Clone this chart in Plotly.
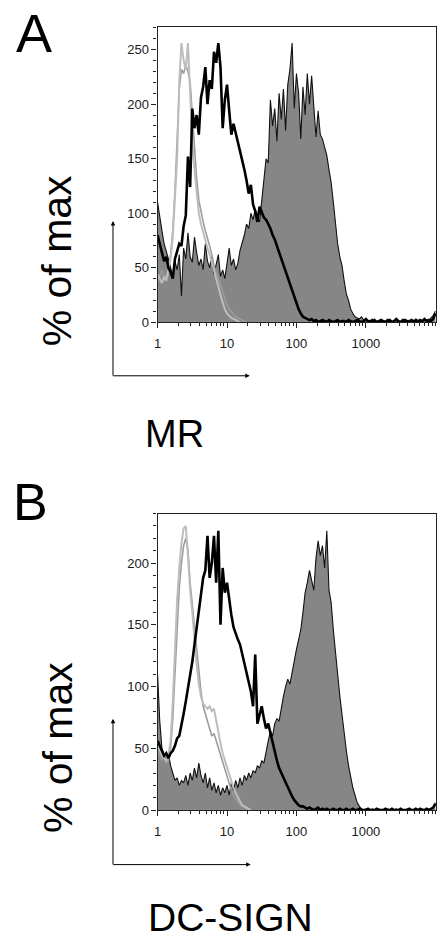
import numpy as np
import plotly.graph_objects as go

# ---- data: histogram counts per channel (channel k sits at 10**(k/32)) ----
CHANNELS_PER_DECADE = 32
N_CHANNELS = 129

# Panel A (MR)
FILL_A = [110, 95, 84, 72, 66, 58, 50, 42, 56, 48,
          62, 24, 68, 58, 82, 60, 55, 78, 64, 52,
          58, 48, 72, 56, 50, 60, 44, 54, 62, 42,
          48, 40, 56, 68, 52, 58, 48, 54, 66, 72,
          80, 90, 86, 100, 94, 104, 96, 92, 112, 132,
          150, 146, 204, 180, 196, 166, 210, 186, 214, 176,
          218, 232, 256, 196, 228, 210, 168, 216, 190, 228,
          200, 226, 196, 170, 194, 172, 168, 160, 153, 140,
          128, 110, 88, 72, 60, 52, 38, 26, 20, 12,
          8, 5, 4, 3, 5, 2, 3, 1, 2, 1,
          3, 1, 0, 2, 1, 1, 3, 1, 0, 1,
          2, 0, 1, 3, 1, 1, 2, 0, 1, 3,
          2, 1, 1, 3, 2, 1, 4, 6, 10]
OPEN_A = [80, 72, 64, 56, 60, 50, 46, 40, 58, 64,
          72, 70, 88, 98, 152, 124, 196, 178, 190, 172,
          206, 216, 234, 200, 222, 214, 248, 238, 256, 234,
          178, 204, 218, 194, 172, 182, 174, 166, 158, 148,
          140, 130, 118, 126, 108, 102, 92, 106, 100, 96,
          94, 90, 86, 80, 76, 70, 64, 60, 54, 48,
          42, 36, 30, 24, 18, 12, 8, 5, 4, 3,
          2, 3, 1, 2, 0, 1, 2, 1, 0, 2,
          1, 0, 1, 2, 0, 1, 1, 0, 2, 1,
          0, 1, 2, 1, 0, 1, 3, 1, 0, 2,
          1, 0, 1, 2, 1, 0, 1, 2, 0, 1,
          3, 1, 0, 1, 2, 1, 0, 2, 1, 1,
          0, 2, 1, 3, 1, 2, 1, 3, 8]
GRAY1_A = [44, 40, 36, 42, 38, 48, 58, 78, 110, 150,
           222, 256, 240, 232, 256, 214, 165, 140, 118, 100,
           90, 82, 76, 68, 62, 56, 48, 40, 32, 24,
           18, 12, 8, 6, 4, 3, 2, 1, 0]
GRAY2_A = [36, 42, 48, 40, 44, 48, 62, 84, 120, 168,
           214, 232, 228, 236, 230, 220, 190, 160, 132, 112,
           100, 92, 84, 78, 70, 62, 52, 46, 40, 34,
           28, 20, 16, 12, 10, 7, 5, 4, 3, 2,
           1, 0]

# Panel B (DC-SIGN)
FILL_B = [110, 72, 50, 44, 40, 46, 36, 30, 24, 26,
          20, 24, 22, 28, 20, 30, 24, 34, 26, 38,
          28, 22, 30, 18, 26, 16, 22, 14, 20, 12,
          18, 14, 20, 12, 22, 16, 24, 18, 26, 20,
          28, 24, 30, 26, 32, 30, 36, 34, 40, 38,
          48, 56, 64, 60, 70, 74, 72, 84, 92, 100,
          106, 102, 112, 122, 130, 138, 146, 160, 176, 184,
          194, 186, 178, 204, 218, 206, 214, 196, 226, 178,
          168, 146, 130, 110, 92, 76, 60, 48, 36, 26,
          18, 12, 6, 3, 1, 0, 1, 0, 0, 1,
          0, 0, 1, 0, 0, 0, 1, 0, 0, 0,
          1, 0, 0, 0, 0, 1, 0, 0, 0, 1,
          0, 0, 1, 0, 0, 1, 0, 2, 6]
OPEN_B = [56, 52, 48, 44, 46, 42, 46, 48, 52, 58,
          60, 68, 78, 88, 98, 110, 120, 134, 148, 164,
          176, 188, 194, 222, 188, 200, 222, 184, 226, 150,
          196, 176, 184, 170, 158, 148, 142, 138, 134, 126,
          120, 112, 104, 96, 84, 126, 70, 76, 84, 74,
          66, 70, 62, 56, 48, 40, 34, 30, 26, 22,
          18, 14, 11, 8, 6, 4, 3, 3, 2, 1,
          2, 1, 0, 1, 2, 0, 1, 0, 1, 0,
          0, 1, 0, 0, 1, 0, 0, 1, 0, 0,
          1, 0, 0, 1, 0, 0, 0, 1, 0, 0,
          0, 1, 0, 0, 0, 1, 0, 0, 1, 0,
          0, 0, 1, 0, 0, 0, 1, 0, 0, 1,
          0, 1, 0, 0, 1, 0, 1, 2, 5]
GRAY1_B = [52, 48, 44, 42, 40, 44, 56, 88, 128, 170,
           196, 216, 228, 230, 206, 178, 160, 138, 118, 102,
           92, 86, 84, 82, 84, 80, 82, 72, 64, 54,
           46, 40, 34, 28, 22, 18, 14, 10, 7, 4,
           3, 2, 1, 0]
GRAY2_B = [46, 44, 40, 44, 38, 40, 50, 74, 110, 150,
           180, 200, 214, 220, 210, 184, 166, 146, 128, 110,
           96, 84, 78, 72, 66, 60, 62, 56, 50, 44,
           38, 32, 26, 20, 16, 12, 9, 6, 4, 3,
           2, 1, 0]

X_TICKS = [1, 10, 100, 1000]
X_TICK_TEXT = ["1", "10", "100", "1000"]
Y_TICKS_A = [0, 50, 100, 150, 200, 250]
Y_TICKS_B = [0, 50, 100, 150, 200]
PANEL_LETTERS = ["A", "B"]
MARKERS = ["MR", "DC-SIGN"]
Y_TITLE = "% of max"

channel_x = 10 ** (np.arange(N_CHANNELS) / CHANNELS_PER_DECADE)

FONT = "Liberation Sans, Arial, sans-serif"
fig = go.Figure()


def add_panel(xa, ya, fill, opn, g1, g2):
    fig.add_trace(go.Scatter(x=channel_x[:len(fill)], y=fill, mode="lines",
                             fill="tozeroy", fillcolor="#868686",
                             line=dict(color="#111111", width=1.1),
                             xaxis=xa, yaxis=ya, showlegend=False))
    fig.add_trace(go.Scatter(x=channel_x[:len(g2)], y=g2, mode="lines",
                             line=dict(color="#9c9c9c", width=1.6),
                             xaxis=xa, yaxis=ya, showlegend=False))
    fig.add_trace(go.Scatter(x=channel_x[:len(g1)], y=g1, mode="lines",
                             line=dict(color="#bdbdbd", width=2),
                             xaxis=xa, yaxis=ya, showlegend=False))
    fig.add_trace(go.Scatter(x=channel_x[:len(opn)], y=opn, mode="lines",
                             line=dict(color="#000000", width=2.6),
                             xaxis=xa, yaxis=ya, showlegend=False))


add_panel("x", "y", FILL_A, OPEN_A, GRAY1_A, GRAY2_A)
add_panel("x2", "y2", FILL_B, OPEN_B, GRAY1_B, GRAY2_B)

W, H = 437, 942
tickfont = dict(family=FONT, size=13, color="#1a1a1a")


def xaxis(domain, anchor):
    return dict(type="log", range=[0, 4.01], domain=domain, anchor=anchor,
                showline=True, mirror=True, linecolor="#222222", linewidth=1.2,
                showgrid=False, zeroline=False, ticks="outside", ticklen=5,
                tickcolor="#222222", tickvals=X_TICKS, ticktext=X_TICK_TEXT,
                tickfont=tickfont, ticklabelstandoff=4,
                minor=dict(tickmode="linear", dtick="D1", ticks="outside",
                           ticklen=3, tickcolor="#222222"))


def yaxis(domain, anchor, top, ticks):
    return dict(range=[0, top], domain=domain, anchor=anchor,
                showline=True, mirror=True, linecolor="#222222", linewidth=1.2,
                showgrid=False, zeroline=False, ticks="outside", ticklen=5,
                tickcolor="#222222", tickvals=ticks, tickfont=tickfont,
                minor=dict(dtick=10, ticks="outside", ticklen=3,
                           tickcolor="#222222"))


xdom = [155 / W, 436 / W]
fig.update_layout(
    width=W, height=H, margin=dict(l=0, r=0, t=0, b=0),
    paper_bgcolor="white", plot_bgcolor="white",
    xaxis=xaxis(xdom, "y"),
    yaxis=yaxis([1 - 325 / H, 1 - 27 / H], "x", 271, Y_TICKS_A),
    xaxis2=xaxis(xdom, "y2"),
    yaxis2=yaxis([1 - 817 / H, 1 - 518 / H], "x2", 240, Y_TICKS_B),
)

ann = []


def txt(x, y, s, size, angle=0):
    ann.append(dict(x=x / W, y=1 - y / H, xref="paper", yref="paper", text=s,
                    showarrow=False, textangle=angle, xanchor="center",
                    yanchor="middle", font=dict(family=FONT, size=size, color="black")))


def arrow(x0, y0, x1, y1):
    ann.append(dict(x=x1 / W, y=1 - y1 / H, xref="paper", yref="paper",
                    ax=x0 - x1, ay=y0 - y1, axref="pixel", ayref="pixel",
                    text="", showarrow=True, arrowhead=2, arrowsize=0.9,
                    arrowwidth=1, arrowcolor="black"))


txt(30, 33, PANEL_LETTERS[0], 54)
txt(27, 506, PANEL_LETTERS[1], 52)
txt(53, 263, Y_TITLE, 41, -90)
txt(54, 754, Y_TITLE, 41, -90)
txt(172, 438, MARKERS[0], 38)
txt(229, 925, MARKERS[1], 39)
arrow(110, 379, 110, 223)
arrow(110, 379, 248, 379)
arrow(110, 872, 110, 725)
arrow(110, 872, 249, 872)
fig.update_layout(annotations=ann)

fig.write_html(
    "out.html",
    config={"displayModeBar": False},
    post_script="document.body.style.margin='0';document.body.style.overflow='hidden';",
)
